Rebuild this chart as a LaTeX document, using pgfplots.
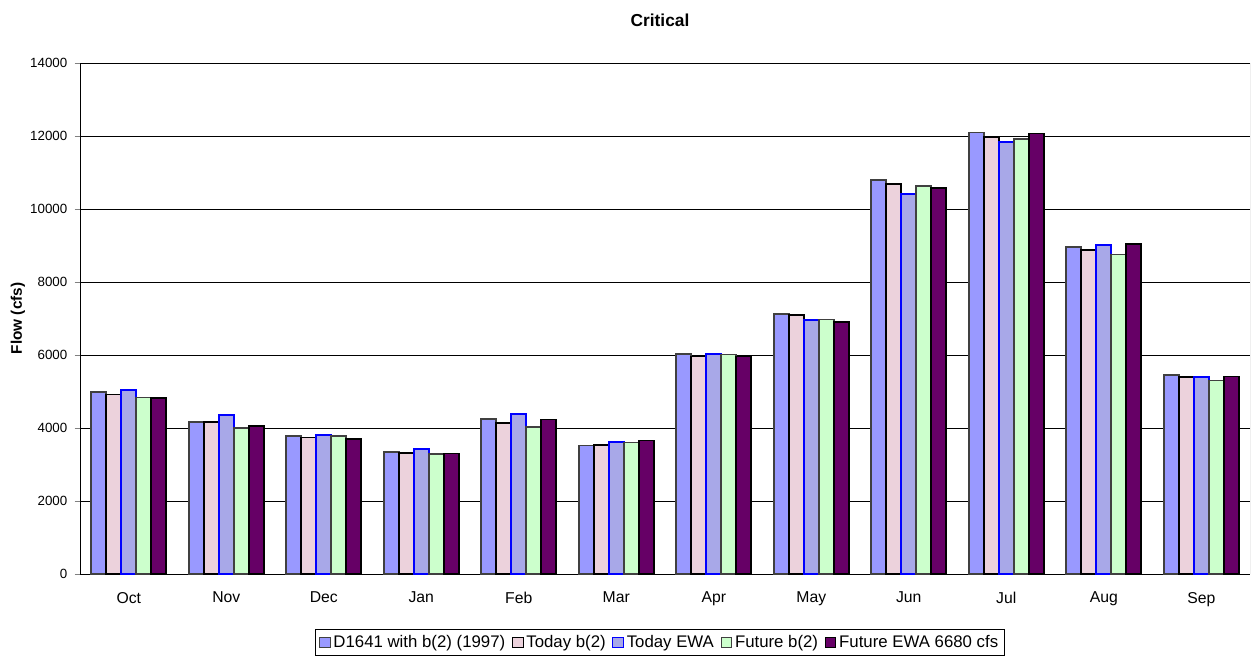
\documentclass[border=0pt]{standalone}
\usepackage{fontspec}
\setmainfont{Liberation Sans}
\usepackage{pgfplots}
\pgfplotsset{compat=1.18}
\definecolor{cA}{HTML}{9999FF}
\definecolor{cB}{HTML}{ECD2DC}
\definecolor{cC}{HTML}{A8A8E8}
\definecolor{cD}{HTML}{CCFFCC}
\definecolor{cE}{HTML}{660066}
\begin{document}
\begin{tikzpicture}[x=1pt,y=1pt]
\useasboundingbox (-60pt,-64.5pt) rectangle (879pt,430.5pt);
\begin{axis}[
  at={(0,0)}, anchor=south west,
  scale only axis, width=877.5pt, height=383.25pt,
  ybar=0pt, bar width=11.25pt,
  xmin=-0.5, xmax=11.5,
  ymin=0, ymax=14000,
  xtick={0,...,11},
  xticklabels={Oct,Nov,Dec,Jan,Feb,Mar,Apr,May,Jun,Jul,Aug,Sep},
  major x tick style={draw=none},
  extra x ticks={-0.5,0.5,...,11.5},
  extra x tick labels={},
  extra x tick style={major tick length=5pt, tick style={draw=black}, tick align=outside, grid=none},
  ytick={0,2000,...,14000},
  scaled y ticks=false,
  yticklabel style={/pgf/number format/1000 sep={}, xshift=-2pt, font=\fontsize{10}{12}\selectfont},
  /pgf/number format/assume math mode=true,
  tick align=outside, major tick length=4pt,
  ymajorgrids, grid style={black, line width=0.6pt},
  axis x line*=bottom, axis y line*=left,
  axis line style={black, line width=0.6pt},
  xticklabel style={yshift=-6pt, font=\fontsize{11.8}{13}\selectfont},
  ylabel={\textbf{Flow (cfs)}},
  ylabel style={at={(axis description cs:-0.053,0.5)}, anchor=center, font=\fontsize{11.5}{13}\selectfont},
  title={\textbf{Critical}},
  title style={at={(axis description cs:0.4957,1)}, anchor=center, yshift=26pt, font=\fontsize{13}{15}\selectfont},
  legend columns=5,
  legend style={at={(axis description cs:0.4957,-0.1076)}, anchor=north, draw=black, line width=0.6pt,
    font=\fontsize{12.6}{14}\selectfont, /tikz/every even column/.append style={column sep=3pt},
    inner sep=2.5pt},
  legend image code/.code={\draw[#1, line width=0.8pt] (0pt,-4pt) rectangle (8pt,4pt);},
]
\addplot[fill=cA, draw=black!75, line width=1.2pt] coordinates {(0,4990) (1,4160) (2,3780) (3,3350) (4,4240) (5,3520) (6,6020) (7,7120) (8,10795) (9,12100) (10,8965) (11,5450)};
\addplot[fill=cB, draw=black, line width=1.2pt] coordinates {(0,4920) (1,4170) (2,3740) (3,3320) (4,4140) (5,3530) (6,5960) (7,7095) (8,10685) (9,11970) (10,8870) (11,5390)};
\addplot[fill=cC, draw=blue, line width=1.4pt] coordinates {(0,5040) (1,4355) (2,3810) (3,3425) (4,4390) (5,3607) (6,6030) (7,6960) (8,10400) (9,11835) (10,9020) (11,5390)};
\addplot[fill=cD, draw=black!75, line width=1.2pt] coordinates {(0,4840) (1,3995) (2,3780) (3,3290) (4,4035) (5,3598) (6,6010) (7,6968) (8,10630) (9,11918) (10,8750) (11,5300)};
\addplot[fill=cE, draw=black, line width=1.2pt] coordinates {(0,4815) (1,4055) (2,3700) (3,3305) (4,4238) (5,3662) (6,5960) (7,6905) (8,10575) (9,12073) (10,9040) (11,5416)};
\legend{D1641 with b(2) (1997),Today b(2),Today EWA,Future b(2),Future EWA 6680 cfs}
\draw[gray, line width=0.6pt] (rel axis cs:1,0) -- (rel axis cs:1,1);
\end{axis}
\end{tikzpicture}
\end{document}
